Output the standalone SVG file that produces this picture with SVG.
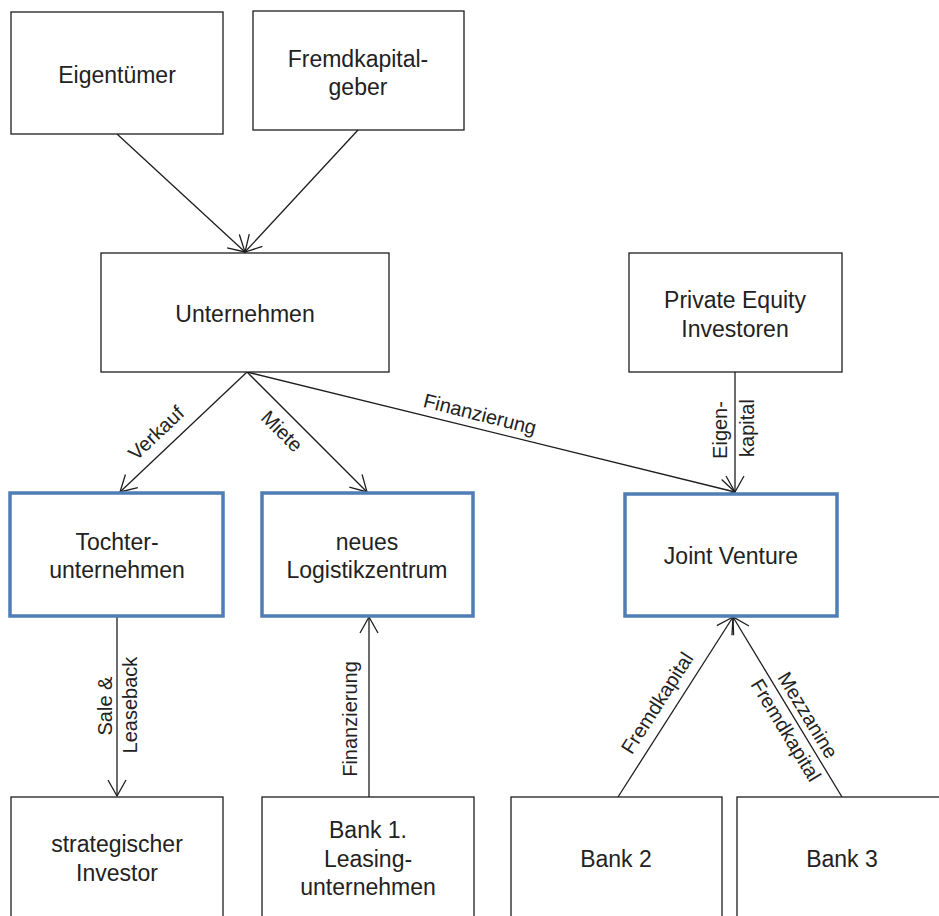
<svg xmlns="http://www.w3.org/2000/svg" width="939" height="916" viewBox="0 0 939 916">
  <style>
    .box { fill: #ffffff; stroke: #1e1e1e; stroke-width: 1.3; }
    .hl { fill: #ffffff; stroke: #4f7db5; stroke-width: 3.5; }
    .t { font-family: "Liberation Sans", Arial, sans-serif; font-size: 23px; fill: #222222; text-anchor: middle; }
    .lbl { font-family: "Liberation Sans", Arial, sans-serif; font-size: 20px; fill: #222222; text-anchor: middle; }
    .edge { fill: none; stroke: #1e1e1e; stroke-width: 1.3; marker-end: url(#open); }
  </style>
  <defs>
    <marker id="open" markerUnits="userSpaceOnUse" markerWidth="20" markerHeight="22" viewBox="-18 -11 20 22" refX="0" refY="0" orient="auto">
      <path d="M-16,-9 L0,0 L-16,9" fill="none" stroke="#1e1e1e" stroke-width="1.3"/>
    </marker>
  </defs>
  <rect width="939" height="916" fill="#ffffff"/>

  <g id="connectors">
    <line class="edge" x1="117" y1="134" x2="245" y2="252"/>
    <line class="edge" x1="358" y1="130" x2="245" y2="252"/>
    <line class="edge" x1="247" y1="372" x2="120" y2="492"/>
    <line class="edge" x1="247" y1="372" x2="367" y2="492"/>
    <line class="edge" x1="247" y1="372" x2="735" y2="492"/>
    <line class="edge" x1="735" y1="372" x2="735" y2="492"/>
    <line class="edge" x1="117" y1="616" x2="117" y2="796"/>
    <line class="edge" x1="369" y1="797" x2="369" y2="617"/>
    <line class="edge" x1="618" y1="797" x2="733" y2="617"/>
    <line class="edge" x1="842" y1="797" x2="733" y2="617"/>

    <text class="lbl" transform="translate(156,433) rotate(-43.4)" y="7">Verkauf</text>
    <text class="lbl" transform="translate(282,431) rotate(45)" y="7">Miete</text>
    <text class="lbl" transform="translate(480,414) rotate(14)" y="7">Finanzierung</text>
    <text class="lbl" transform="translate(727,430) rotate(-90)">Eigen-</text>
    <text class="lbl" transform="translate(754,428) rotate(-90)">kapital</text>
    <text class="lbl" transform="translate(112,706) rotate(-90)">Sale &amp;</text>
    <text class="lbl" transform="translate(137,705) rotate(-90)">Leaseback</text>
    <text class="lbl" transform="translate(357,719) rotate(-90)">Finanzierung</text>
    <text class="lbl" transform="translate(657,703) rotate(-57.4)" y="7">Fremdkapital</text>
    <text class="lbl" transform="translate(808,715) rotate(58.8)" y="7">Mezzanine</text>
    <text class="lbl" transform="translate(786,730) rotate(58.8)" y="7">Fremdkapital</text>
  </g>

  <g id="eigentuemer">
    <rect class="box" x="11" y="12" width="212" height="122"/>
    <text class="t" x="117" y="83">Eigentümer</text>
  </g>
  <g id="fremdkapitalgeber">
    <rect class="box" x="253" y="11" width="211" height="119"/>
    <text class="t" x="358" y="67">Fremdkapital-</text>
    <text class="t" x="358" y="95">geber</text>
  </g>
  <g id="unternehmen">
    <rect class="box" x="101" y="253" width="288" height="119"/>
    <text class="t" x="245" y="322">Unternehmen</text>
  </g>
  <g id="private-equity">
    <rect class="box" x="629" y="253" width="213" height="119"/>
    <text class="t" x="735" y="308">Private Equity</text>
    <text class="t" x="735" y="337">Investoren</text>
  </g>
  <g id="tochterunternehmen">
    <rect class="hl" x="10" y="493" width="213" height="123"/>
    <text class="t" x="117" y="550">Tochter-</text>
    <text class="t" x="117" y="578">unternehmen</text>
  </g>
  <g id="logistikzentrum">
    <rect class="hl" x="262" y="493" width="211" height="123"/>
    <text class="t" x="367" y="550">neues</text>
    <text class="t" x="367" y="578">Logistikzentrum</text>
  </g>
  <g id="joint-venture">
    <rect class="hl" x="625" y="494" width="212" height="122"/>
    <text class="t" x="731" y="564">Joint Venture</text>
  </g>
  <g id="strategischer-investor">
    <rect class="box" x="11" y="797" width="212" height="140"/>
    <text class="t" x="117" y="852">strategischer</text>
    <text class="t" x="117" y="881">Investor</text>
  </g>
  <g id="bank1">
    <rect class="box" x="262" y="797" width="212" height="140"/>
    <text class="t" x="368" y="838">Bank 1.</text>
    <text class="t" x="368" y="867">Leasing-</text>
    <text class="t" x="368" y="895">unternehmen</text>
  </g>
  <g id="bank2">
    <rect class="box" x="511" y="797" width="211" height="140"/>
    <text class="t" x="616" y="867">Bank 2</text>
  </g>
  <g id="bank3">
    <rect class="box" x="737" y="797" width="220" height="140"/>
    <text class="t" x="842" y="867">Bank 3</text>
  </g>
</svg>
